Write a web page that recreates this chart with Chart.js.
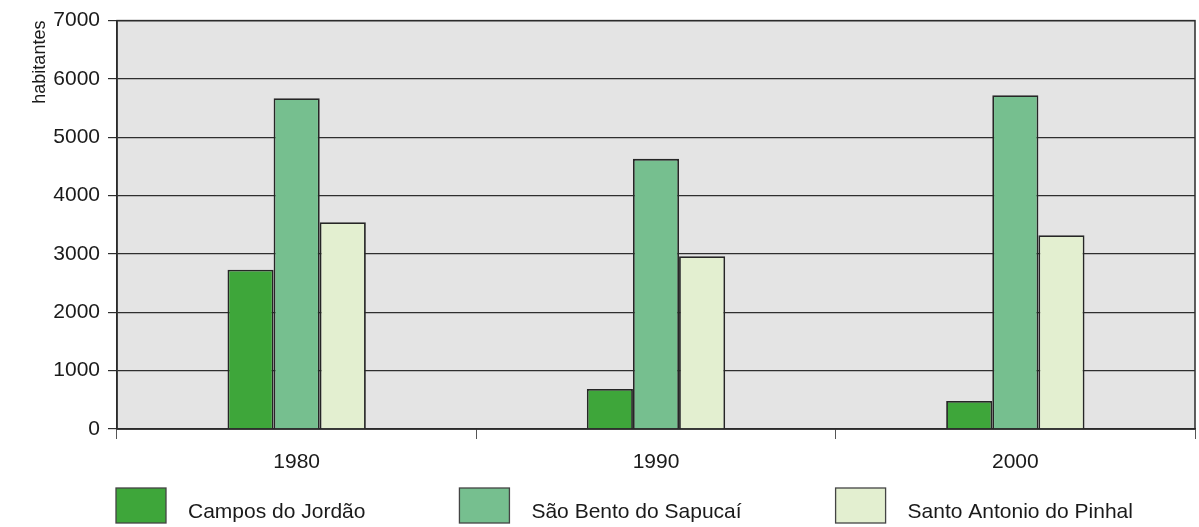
<!DOCTYPE html>
<html lang="pt">
<head>
    <meta charset="UTF-8">
    <title>Habitantes</title>
    <script src="https://cdn.jsdelivr.net/npm/chart.js"></script>
    <style>
      html, body { margin: 0; padding: 0; background: #ffffff; }
      .chart-box { width: 1199px; height: 527px; }
    </style>
</head>
<body>
  <div class="chart-box">
    <canvas id="popChart" width="1199" height="527"></canvas>
  </div>
  <script>
    // data
    const years = ['1980', '1990', '2000'];
    const camposJordao = [2730, 685, 480];
    const saoBento = [5670, 4630, 5720];
    const santoAntonio = [3545, 2960, 3320];
    const yTicks = [0, 1000, 2000, 3000, 4000, 5000, 6000, 7000];

    const fontFamily = '"Liberation Sans", Arial, sans-serif';
    const textColor = '#1a1a1a';

    // grey plot background + frame around the plot area
    const plotFrame = {
      id: 'plotFrame',
      beforeDraw(chart) {
        const a = chart.chartArea, c = chart.ctx;
        c.save();
        c.fillStyle = '#e4e4e4';
        c.fillRect(a.left, a.top, a.right - a.left, a.bottom - a.top);
        c.restore();
      },
      afterDraw(chart) {
        const a = chart.chartArea, c = chart.ctx;
        c.save();
        c.strokeStyle = '#2b2b2b';
        c.lineWidth = 1.5;
        c.strokeRect(a.left, a.top, a.right - a.left, a.bottom - a.top);
        c.restore();
      }
    };

    // legend row under the axis, wide gaps like the printed one
    const bottomLegend = {
      id: 'bottomLegend',
      afterDraw(chart) {
        const c = chart.ctx;
        const y = 488, boxW = 50, boxH = 35;
        let x = 116;
        c.save();
        c.font = '21px ' + fontFamily;
        c.textBaseline = 'middle';
        chart.data.datasets.forEach(ds => {
          c.fillStyle = ds.backgroundColor;
          c.fillRect(x, y, boxW, boxH);
          c.strokeStyle = '#444444';
          c.lineWidth = 1.3;
          c.strokeRect(x, y, boxW, boxH);
          c.fillStyle = textColor;
          c.fillText(ds.label, x + boxW + 22, y + 24);
          x += boxW + 22 + c.measureText(ds.label).width + 94;
        });
        c.restore();
      }
    };

    new Chart(document.getElementById('popChart'), {
      type: 'bar',
      data: {
        labels: years,
        datasets: [
          { label: 'Campos do Jordão', data: camposJordao, backgroundColor: '#3ea63a' },
          { label: 'São Bento do Sapucaí', data: saoBento, backgroundColor: '#76bf8f' },
          { label: 'Santo Antonio do Pinhal', data: santoAntonio, backgroundColor: '#e3efd0' }
        ]
      },
      options: {
        responsive: false,
        animation: false,
        layout: { padding: { top: 20, right: 4, bottom: 55, left: 0 } },
        datasets: {
          bar: {
            borderColor: '#262626',
            borderWidth: 1.8,
            barPercentage: 1,
            categoryPercentage: 0.385
          }
        },
        plugins: {
          tooltip: { enabled: false },
          legend: { display: false }
        },
        scales: {
          x: {
            afterFit(scale) { scale.height = 43; },
            grid: {
              offset: true,
              drawOnChartArea: false,
              tickLength: 10,
              color: '#555555'
            },
            border: { display: true, color: '#2b2b2b', width: 1.5 },
            ticks: { color: textColor, padding: 11, font: { family: fontFamily, size: 21 } }
          },
          y: {
            min: 0,
            max: 7000,
            afterBuildTicks(scale) {
              scale.ticks = yTicks.map(v => ({ value: v }));
            },
            afterFit(scale) { scale.width = 117; },
            grid: { color: '#2e2e2e', lineWidth: 1.2, tickLength: 9 },
            border: { display: true, color: '#2b2b2b', width: 1.5 },
            ticks: {
              color: textColor,
              padding: 8,
              font: { family: fontFamily, size: 21 },
              callback: v => String(v)
            },
            title: {
              display: true,
              text: 'habitantes',
              align: 'end',
              color: textColor,
              padding: { top: 29, bottom: 0 },
              font: { family: fontFamily, size: 18 }
            }
          }
        }
      },
      plugins: [plotFrame, bottomLegend]
    });
  </script>
</body>
</html>
